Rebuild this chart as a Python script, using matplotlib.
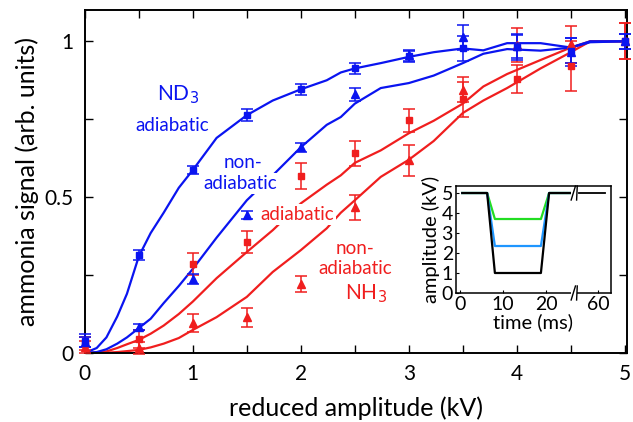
import numpy as np
import matplotlib.pyplot as plt

plt.rcParams['font.family'] = ['Lato', 'DejaVu Sans']

BLUE = '#0a14f0'
RED = '#f01e1e'

# measured points
amp = [0, 0.5, 1, 1.5, 2, 2.5, 3, 3.5, 4, 4.5, 5]
nd3_ad = [0.04, 0.314, 0.587, 0.763, 0.846, 0.913, 0.952, 0.977, 0.981, 0.97, 1.0]
nd3_ad_err = [0.02, 0.015, 0.012, 0.02, 0.018, 0.018, 0.018, 0.04, 0.04, 0.04, 0.025]
nd3_na = [0.035, 0.083, 0.237, 0.442, 0.66, 0.83, 0.955, 1.013, 0.985, 0.965, 1.0]
nd3_na_err = [0.015, 0.01, 0.015, 0.012, 0.015, 0.02, 0.018, 0.04, 0.04, 0.045, 0.025]
nh3_ad = [0.03, 0.045, 0.285, 0.356, 0.567, 0.641, 0.747, 0.814, 0.88, 0.92, 1.0]
nh3_ad_err = [0.02, 0.03, 0.035, 0.035, 0.042, 0.04, 0.037, 0.056, 0.045, 0.08, 0.058]
nh3_na = [0.02, 0.016, 0.096, 0.115, 0.221, 0.467, 0.618, 0.845, 0.987, 0.99, 1.0]
nh3_na_err = [0.02, 0.02, 0.03, 0.03, 0.025, 0.04, 0.05, 0.04, 0.055, 0.06, 0.058]

# simulated curves
sim_x = [0, 0.11, 0.2, 0.3, 0.39, 0.5, 0.61, 0.73, 0.87, 1.0, 1.22, 1.5, 1.74, 2.0, 2.24,
         2.37, 2.5, 2.74, 3.0, 3.23, 3.5, 3.69, 3.91, 4.22, 4.5, 4.68, 5.0]
sim_nd3_ad = [0, 0.016, 0.05, 0.117, 0.19, 0.31, 0.385, 0.45, 0.53, 0.587, 0.69, 0.763, 0.81,
              0.846, 0.875, 0.90, 0.913, 0.93, 0.95, 0.965, 0.977, 0.971, 0.994, 0.994, 0.98,
              0.997, 1.0]
sim_nd3_na = [0, 0.003, 0.012, 0.03, 0.05, 0.08, 0.11, 0.16, 0.215, 0.27, 0.37, 0.49, 0.57,
              0.66, 0.732, 0.757, 0.80, 0.85, 0.866, 0.89, 0.93, 0.96, 0.975, 0.97, 0.98, 1.0, 1.0]
sim_nh3_ad = [0, 0.002, 0.005, 0.016, 0.028, 0.042, 0.062, 0.088, 0.125, 0.165, 0.24, 0.324,
              0.394, 0.48, 0.54, 0.57, 0.61, 0.65, 0.705, 0.745, 0.80, 0.855, 0.895, 0.94, 0.98,
              1.0, 1.0]
sim_nh3_na = [0, 0.0, 0.001, 0.003, 0.006, 0.01, 0.018, 0.03, 0.048, 0.074, 0.115, 0.18, 0.26,
              0.33, 0.40, 0.45, 0.49, 0.565, 0.62, 0.68, 0.77, 0.81, 0.85, 0.913, 0.965, 1.0, 1.0]

# inset: electrode amplitude vs time
t_pulse = [0.5, 6.3, 8.1, 18.8, 20.7, 26.0]
u_black = [5, 5, 1.0, 1.0, 5, 5]
u_blue = [5, 5, 2.35, 2.35, 5, 5]
u_green = [5, 5, 3.7, 3.7, 5, 5]
t_tail = [31.5, 70]
u_tail = [5, 5]

fig = plt.figure(figsize=(6.33, 4.22), dpi=100)
ax = fig.add_axes([0.134, 0.1635, 0.8565, 0.8125])

ax.plot(sim_x, sim_nh3_na, color=RED, lw=1.6, zorder=2)
ax.plot(sim_x, sim_nh3_ad, color=RED, lw=1.6, zorder=2)
ax.plot(sim_x, sim_nd3_na, color=BLUE, lw=1.6, zorder=2)
ax.plot(sim_x, sim_nd3_ad, color=BLUE, lw=1.6, zorder=2)

ekw = dict(ls='none', elinewidth=1.1, capsize=4.5, capthick=1.1, clip_on=False, zorder=4)
ax.errorbar(amp, nh3_na, yerr=nh3_na_err, fmt='^', color=RED, ms=6, **ekw)
ax.errorbar(amp, nh3_ad, yerr=nh3_ad_err, fmt='s', color=RED, ms=5, **ekw)
ax.errorbar(amp, nd3_na, yerr=nd3_na_err, fmt='^', color=BLUE, ms=6, **ekw)
ax.errorbar(amp, nd3_ad, yerr=nd3_ad_err, fmt='s', color=BLUE, ms=5, **ekw)

ax.set_xlim(0, 5.02)
ax.set_ylim(0, 1.1)
ax.set_xticks([0, 1, 2, 3, 4, 5])
ax.set_xticks(np.arange(0.5, 5, 1), minor=True)
ax.set_yticks([0, 0.5, 1])
ax.set_yticklabels(['0', '0.5', '1'])
ax.set_yticks([0.25, 0.75], minor=True)
ax.tick_params(which='both', direction='in', top=True, right=True, length=6, width=1,
               labelsize=15, pad=8)
for s in ax.spines.values():
    s.set_linewidth(1.4)
ax.set_xlabel('reduced amplitude (kV)', fontsize=18, labelpad=9)
ax.set_ylabel('ammonia signal (arb. units)', fontsize=18, labelpad=4)

box = dict(facecolor='white', edgecolor='none', pad=1.5)
labels = [
    (0.86, 0.83, 'ND$_3$', BLUE, 15),
    (0.81, 0.73, 'adiabatic', BLUE, 13.5),
    (1.46, 0.612, 'non-', BLUE, 13.5),
    (1.44, 0.545, 'adiabatic', BLUE, 13.5),
    (1.97, 0.445, 'adiabatic', RED, 13.5),
    (2.5, 0.335, 'non-', RED, 13.5),
    (2.5, 0.27, 'adiabatic', RED, 13.5),
    (2.6, 0.19, 'NH$_3$', RED, 15),
]
for x, y, s, c, fs in labels:
    ax.text(x, y, s, color=c, fontsize=fs, ha='center', va='center', bbox=box, zorder=3)

# inset with a broken time axis
def fwd(t):
    t = np.asarray(t, dtype=float)
    return np.where(t <= 27, t, 27 + (t - 27) * 0.155)


def inv(d):
    d = np.asarray(d, dtype=float)
    return np.where(d <= 27, d, 27 + (d - 27) / 0.155)


ins = fig.add_axes([0.720, 0.3057, 0.245, 0.2535])
ins.set_xscale('function', functions=(fwd, inv))
ins.plot(t_pulse, u_green, color='#22dd22', lw=1.6)
ins.plot(t_pulse, u_blue, color='#1e96ff', lw=1.6)
ins.plot(t_pulse, u_black, color='black', lw=1.6)
ins.plot(t_tail, u_tail, color='black', lw=1.3)
ins.set_xlim(-1, 79)
ins.set_ylim(0, 5.35)
ins.set_xticks([0, 10, 20, 60])
ins.set_yticks([0, 1, 2, 3, 4, 5])
ins.tick_params(direction='in', length=2.5, labelsize=14, pad=2)
for s in ins.spines.values():
    s.set_linewidth(1.1)
ins.set_xlabel('time (ms)', fontsize=14.5, labelpad=0)
ins.set_ylabel('amplitude (kV)', fontsize=14.5, labelpad=1)

# break marks
bx = fwd(28.5)
for yb in (0.0, 5.0):
    ins.plot([bx - 1.5, bx + 1.5], [yb, yb], color='white', lw=3, clip_on=False,
             solid_capstyle='butt', zorder=5)
    for dx in (-0.9, 0.9):
        ins.plot([bx + dx - 0.5, bx + dx + 0.5], [yb - 0.35, yb + 0.35], color='black',
                 lw=1.0, clip_on=False, zorder=6)

fig.savefig('out.png', dpi=100)
